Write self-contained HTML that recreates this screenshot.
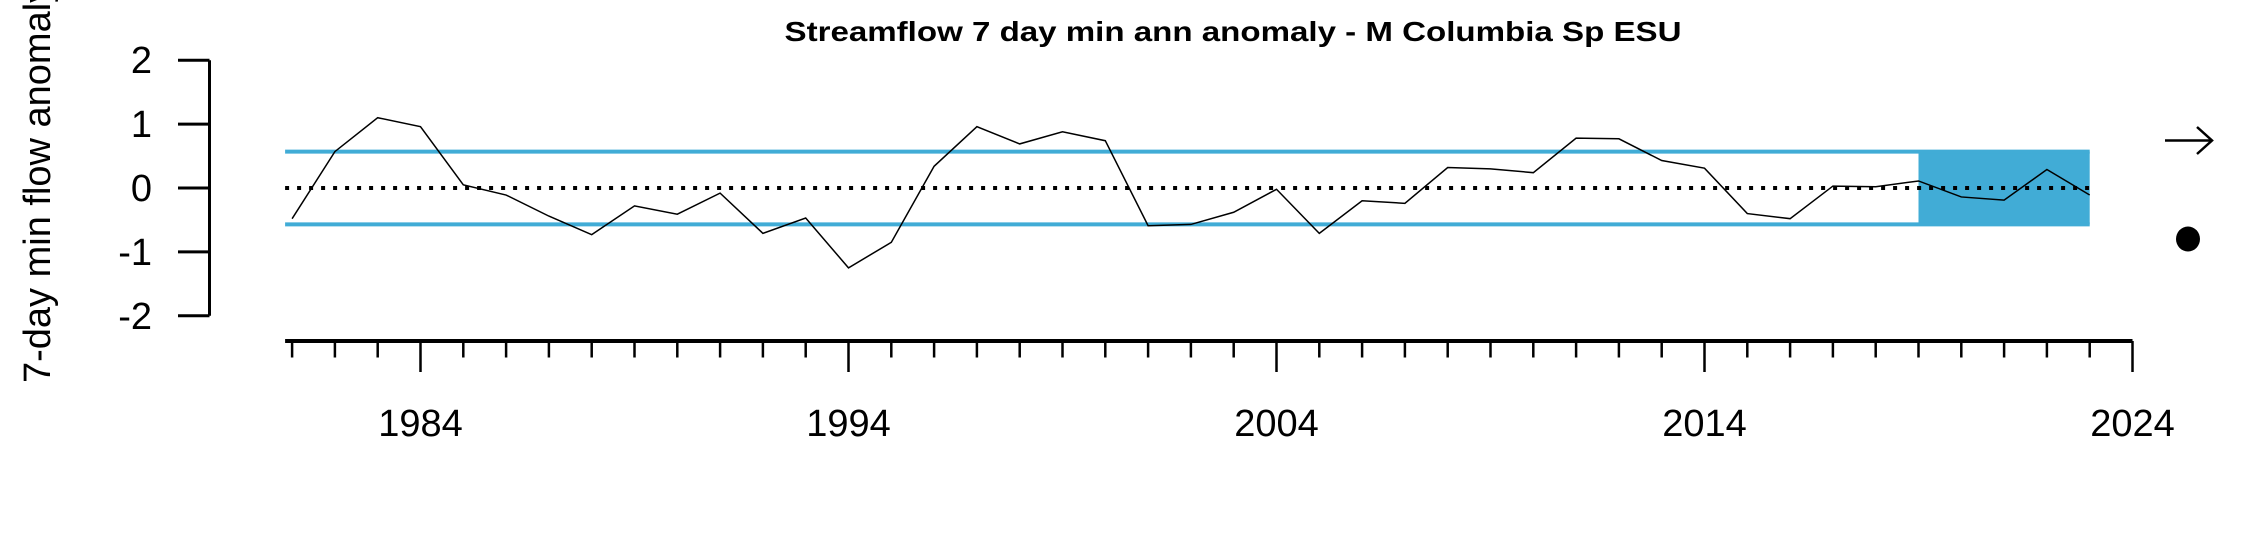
<!DOCTYPE html>
<html><head><meta charset="utf-8"><style>
html,body{margin:0;padding:0;background:#fff;}
svg{display:block;font-family:"Liberation Sans",Arial,sans-serif;}
</style></head><body>
<svg id="chart" width="2250" height="540" viewBox="0 0 2250 540" xmlns="http://www.w3.org/2000/svg">
<text x="1233" y="41" text-anchor="middle" font-size="28" font-weight="bold" textLength="897" lengthAdjust="spacingAndGlyphs">Streamflow 7 day min ann anomaly - M Columbia Sp ESU</text>
<text transform="translate(50,383) rotate(-90)" font-size="38">7-day min flow anomaly</text>
<g id="plot"></g>
</svg>
<script>
const years = [1981,1982,1983,1984,1985,1986,1987,1988,1989,1990,1991,1992,1993,1994,1995,1996,1997,1998,1999,2000,2001,2002,2003,2004,2005,2006,2007,2008,2009,2010,2011,2012,2013,2014,2015,2016,2017,2018,2019,2020,2021,2022,2023];
const anomaly = [-0.48,0.57,1.10,0.96,0.05,-0.11,-0.44,-0.73,-0.28,-0.41,-0.08,-0.71,-0.47,-1.25,-0.85,0.34,0.96,0.69,0.88,0.74,-0.59,-0.57,-0.38,-0.02,-0.71,-0.20,-0.24,0.32,0.30,0.24,0.78,0.77,0.43,0.31,-0.40,-0.48,0.03,0.02,0.11,-0.14,-0.19,0.29,-0.11];
const yTicks = [-2,-1,0,1,2];
const xTickLabels = [1984,1994,2004,2014,2024];
const sdBand = [-0.57,0.57];
const recentStart = 2019;

const NS = "http://www.w3.org/2000/svg";
const g = document.getElementById('plot');
const xs = yr => 420.5 + (yr - 1984) * 42.8;
const ys = v => 188 - v * 63.9;
function mk(tag, attrs, parent){ const e=document.createElementNS(NS,tag); for(const k in attrs) e.setAttribute(k,attrs[k]); (parent||g).appendChild(e); return e; }

const x0 = xs(years[0]) - 7, x1 = xs(years[years.length-1]);
// recent shaded box
const box = mk('rect',{x:xs(recentStart),y:ys(sdBand[1]),width:x1-xs(recentStart),height:ys(sdBand[0])-ys(sdBand[1]),fill:'#41acd6'});


// sd lines
sdBand.forEach((v,i)=>{
  const l = mk('line',{x1:x0,x2:x1,y1:ys(v),y2:ys(v),stroke:'#41acd6','stroke-width':4});
  
  
});
// zero mean line
const z = mk('line',{x1:x0,x2:x1,y1:ys(0),y2:ys(0),stroke:'#000','stroke-width':4,'stroke-dasharray':'4 8'});


// series line
const pl = mk('polyline',{points:years.map((y,i)=>xs(y)+','+ys(anomaly[i])).join(' '),fill:'none',stroke:'#000','stroke-width':1.5});



// y axis
const ya = mk('line',{x1:209.5,x2:209.5,y1:ys(2),y2:ys(-2),stroke:'#000','stroke-width':3});


yTicks.forEach(v=>{
  const t = mk('line',{x1:178,x2:209.5,y1:ys(v),y2:ys(v),stroke:'#000','stroke-width':3});
  
  
  const lb = mk('text',{x:152,y:ys(v)+13,'text-anchor':'end','font-size':38});
  lb.textContent = v;
  
  
});

// x axis
const xa = mk('line',{x1:x0,x2:xs(2024),y1:341,y2:341,stroke:'#000','stroke-width':4});


for(let yr=years[0]; yr<=2024; yr++){
  const major = xTickLabels.includes(yr);
  const t = mk('line',{x1:xs(yr),x2:xs(yr),y1:341,y2:major?372:357.5,stroke:'#000','stroke-width':2.5});
  
  
}
xTickLabels.forEach(yr=>{
  const lb = mk('text',{x:xs(yr),y:436,'text-anchor':'middle','font-size':38});
  lb.textContent = yr;
  
  
});

// trend arrow and status dot
const ar = mk('path',{d:'M2165 140.5 H2212 M2197 127 L2212 140.5 L2197 154',fill:'none',stroke:'#000','stroke-width':2.5});


const dot = mk('ellipse',{cx:2188,cy:239,rx:12,ry:12.5,fill:'#000'});


</script>
</body></html>
